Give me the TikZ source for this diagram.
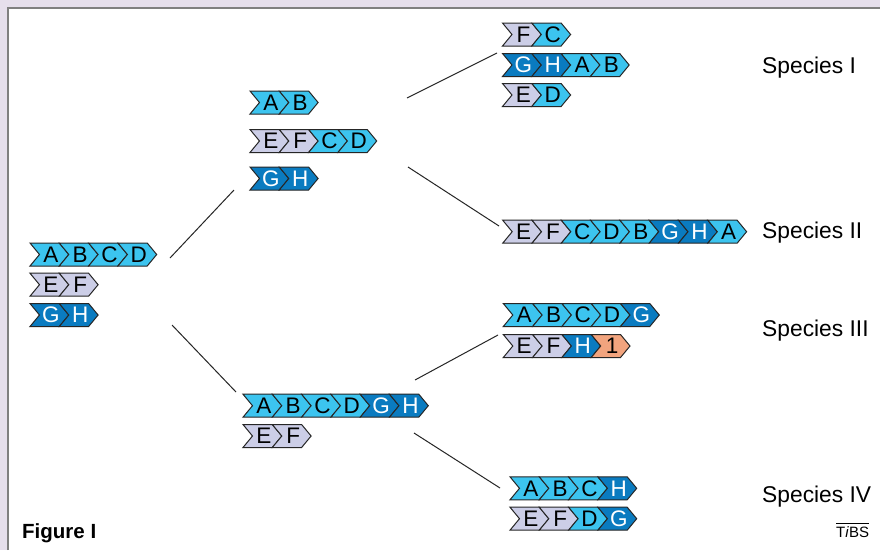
\documentclass[tikz,border=0pt]{standalone}
\usepackage{fontspec}
\setmainfont{Liberation Sans}
\usetikzlibrary{calc}

\definecolor{framebg}{HTML}{E6DFEC}
\definecolor{frameline}{HTML}{808080}
\definecolor{gcyan}{HTML}{3CC4EF}
\definecolor{gblue}{HTML}{0A7BC0}
\definecolor{glav}{HTML}{CCCEE7}
\definecolor{gorange}{HTML}{F2A47E}
\definecolor{segline}{HTML}{262626}

% segment geometry: body width, tip depth, half height
\def\segw{29.3}
\def\segd{9.5}
\def\segh{11.5}

\tikzset{
  seg/.style={draw=segline, line width=1pt, line join=miter},
  lbl/.style={font=\fontsize{22.5}{22.5}\selectfont, inner sep=0pt},
  branch/.style={line width=1pt, draw=black!85},
  species/.style={font=\fontsize{22.8}{22.8}\selectfont, anchor=base west, inner sep=0pt},
}

% a row of gene arrows: name, left x, centre y, list of fill/text colour/label
\newcommand\generow[4]{%
  \begin{scope}[shift={(#2,-#3)}]
  \foreach [count=\i from 0] \fc/\tc/\t in {#4} {
    \pgfmathsetmacro\xa{\i*\segw}
    \filldraw[seg, fill=\fc] (\xa,\segh) -- ++(\segw,0) -- ++(\segd,-\segh)
      -- ++(-\segd,-\segh) -- ++(-\segw,0) -- ++(\segd,\segh) -- cycle;
    \node[lbl, text=\tc] (#1-\i) at (\xa+\segw/2+\segd/2+1.5, 0) {\t};
  }
  \end{scope}}

\begin{document}
\begin{tikzpicture}[x=1pt,y=1pt]
  \useasboundingbox (0,0) rectangle (880,-550);
  % frame
  \fill[framebg] (0,0) rectangle (880,-550);
  \fill[white] (8,-8) rectangle (880,-550);
  \draw[frameline, line width=1.5pt] (8,-550) -- (8,-8) -- (880,-8);

  % ancestral arrangement
  \generow{r1}{30}{254.5}{gcyan/black/A, gcyan/black/B, gcyan/black/C, gcyan/black/D}
  \generow{r2}{30}{284.7}{glav/black/E, glav/black/F}
  \generow{r3}{30}{315}{gblue/white/G, gblue/white/H}

  % upper intermediate
  \generow{u1}{250}{102.5}{gcyan/black/A, gcyan/black/B}
  \generow{u2}{250}{141}{glav/black/E, glav/black/F, gcyan/black/C, gcyan/black/D}
  \generow{u3}{250}{178.5}{gblue/white/G, gblue/white/H}

  % lower intermediate
  \generow{l1}{243}{405.7}{gcyan/black/A, gcyan/black/B, gcyan/black/C, gcyan/black/D, gblue/white/G, gblue/white/H}
  \generow{l2}{243}{436}{glav/black/E, glav/black/F}

  % species I
  \generow{s1a}{502.5}{34.5}{glav/black/F, gcyan/black/C}
  \generow{s1b}{502.5}{65}{gblue/white/G, gblue/white/H, gcyan/black/A, gcyan/black/B}
  \generow{s1c}{502.5}{95}{glav/black/E, gcyan/black/D}

  % species II
  \generow{s2a}{502.7}{231.7}{glav/black/E, glav/black/F, gcyan/black/C, gcyan/black/D, gcyan/black/B, gblue/white/G, gblue/white/H, gcyan/black/A}

  % species III
  \generow{s3a}{503.3}{315}{gcyan/black/A, gcyan/black/B, gcyan/black/C, gcyan/black/D, gblue/white/G}
  \generow{s3b}{503.3}{346}{glav/black/E, glav/black/F, gblue/white/H, gorange/black/1}

  % species IV
  \generow{s4a}{510}{488.3}{gcyan/black/A, gcyan/black/B, gcyan/black/C, gblue/white/H}
  \generow{s4b}{510}{518.7}{glav/black/E, glav/black/F, gcyan/black/D, gblue/white/G}

  % branch ends
  \coordinate (rootUp)  at (170,-258);
  \coordinate (upIn)    at (234,-190);
  \coordinate (rootLow) at (172,-325);
  \coordinate (lowIn)   at (236,-392);
  \coordinate (upOutA)  at (407,-98);
  \coordinate (spIin)   at (497,-53);
  \coordinate (upOutB)  at (408,-167);
  \coordinate (spIIin)  at (499,-226);
  \coordinate (lowOutA) at (415,-380);
  \coordinate (spIIIin) at (498,-335);
  \coordinate (lowOutB) at (414,-433);
  \coordinate (spIVin)  at (500,-488);

  \draw[branch] (rootUp) -- (upIn);
  \draw[branch] (rootLow) -- (lowIn);
  \draw[branch] (upOutA) -- (spIin);
  \draw[branch] (upOutB) -- (spIIin);
  \draw[branch] (lowOutA) -- (spIIIin);
  \draw[branch] (lowOutB) -- (spIVin);

  % species names
  \node[species] (nI)   at (762,-73)  {Species I};
  \node[species] (nII)  at (762,-238) {Species II};
  \node[species] (nIII) at (762,-336) {Species III};
  \node[species] (nIV)  at (762,-502) {Species IV};

  % caption and logo
  \node[anchor=base west, inner sep=0pt, font=\bfseries\fontsize{20.5}{20.5}\selectfont] (fig) at (22,-538) {Figure I};
  \node[anchor=base west, inner sep=0pt, font=\fontsize{15}{15}\selectfont] (tibs) at (836,-537) {T\textit{i}BS};
  \draw[line width=0.8pt] ([yshift=2.5pt]tibs.north west) -- ([yshift=2.5pt]tibs.north east);
\end{tikzpicture}
\end{document}
